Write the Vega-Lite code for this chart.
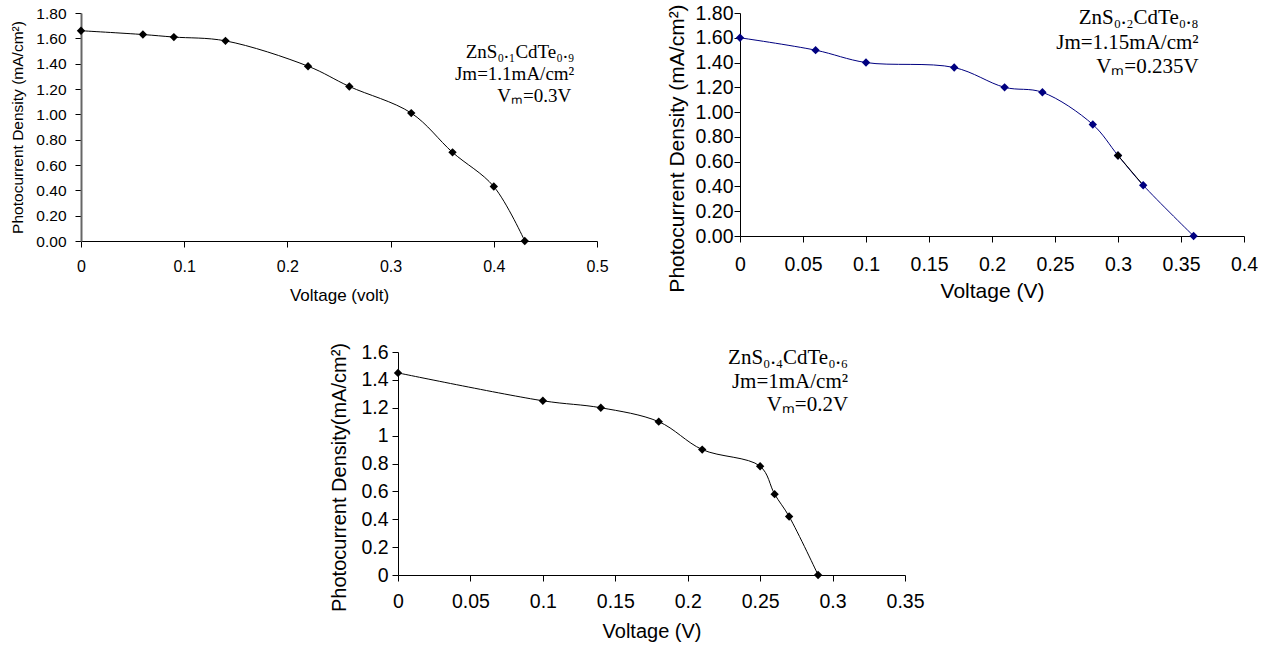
{
  "$schema": "https://vega.github.io/schema/vega-lite/v6.json",
  "padding": {"left": 10, "top": 3, "right": 0, "bottom": 0},
  "background": "white",
  "datasets": {
    "p1": [
      {"V": 0, "J": 1.66}, {"V": 0.06, "J": 1.63}, {"V": 0.09, "J": 1.61}, {"V": 0.14, "J": 1.58},
      {"V": 0.22, "J": 1.38}, {"V": 0.26, "J": 1.22}, {"V": 0.32, "J": 1.01}, {"V": 0.36, "J": 0.70},
      {"V": 0.40, "J": 0.43}, {"V": 0.43, "J": 0}
    ],
    "p2": [
      {"V": 0, "J": 1.60}, {"V": 0.06, "J": 1.50}, {"V": 0.10, "J": 1.40}, {"V": 0.17, "J": 1.36},
      {"V": 0.21, "J": 1.20}, {"V": 0.24, "J": 1.16}, {"V": 0.28, "J": 0.90}, {"V": 0.30, "J": 0.65},
      {"V": 0.32, "J": 0.41}, {"V": 0.36, "J": 0}
    ],
    "p3": [
      {"V": 0, "J": 1.45}, {"V": 0.10, "J": 1.25}, {"V": 0.14, "J": 1.20}, {"V": 0.18, "J": 1.10},
      {"V": 0.21, "J": 0.90}, {"V": 0.25, "J": 0.78}, {"V": 0.26, "J": 0.58}, {"V": 0.27, "J": 0.42},
      {"V": 0.29, "J": 0}
    ],
    "a1": [
      {"V": 0.478, "J": 1.49, "t": "ZnS₀.₁CdTe₀.₉"},
      {"V": 0.478, "J": 1.318, "t": "Jm=1.1mA/cm²"},
      {"V": 0.475, "J": 1.145, "t": "Vₘ=0.3V"}
    ],
    "a2": [
      {"V": 0.364, "J": 1.76, "t": "ZnS₀.₂CdTe₀.₈"},
      {"V": 0.364, "J": 1.558, "t": "Jm=1.15mA/cm²"},
      {"V": 0.364, "J": 1.364, "t": "Vₘ=0.235V"}
    ],
    "a3": [
      {"V": 0.3107, "J": 1.557, "t": "ZnS₀.₄CdTe₀.₆"},
      {"V": 0.3107, "J": 1.385, "t": "Jm=1mA/cm²"},
      {"V": 0.3107, "J": 1.22, "t": "Vₘ=0.2V"}
    ]
  },
  "config": {
    "view": {"stroke": null},
    "axis": {
      "grid": false, "domainColor": "black", "tickColor": "black", "labelColor": "black",
      "titleColor": "black", "labelFont": "Liberation Sans", "titleFont": "Liberation Sans",
      "titleFontWeight": "normal", "tickSize": 6, "labelFlush": false, "labelOverlap": false, "tickCount": 30
    },
    "text": {"font": "Liberation Serif", "color": "black"}
  },
  "spacing": 39,
  "vconcat": [
    {
      "spacing": 57,
      "hconcat": [
        {
          "width": 516, "height": 228,
          "layer": [
            {
              "data": {"name": "p1"},
              "mark": {"type": "line", "interpolate": "catmull-rom", "color": "black", "strokeWidth": 1},
              "encoding": {
                "x": {"field": "V", "type": "quantitative", "scale": {"domain": [0, 0.5], "nice": false},
                  "axis": {"values": [0, 0.1, 0.2, 0.3, 0.4, 0.5], "format": "~g", "title": "Voltage (volt)",
                    "labelFontSize": 16, "titleFontSize": 17, "labelPadding": 11, "titlePadding": 13}},
                "y": {"field": "J", "type": "quantitative", "scale": {"domain": [0, 1.8], "nice": false},
                  "axis": {"values": [0, 0.2, 0.4, 0.6, 0.8, 1.0, 1.2, 1.4, 1.6, 1.8], "format": ".2f",
                    "title": "Photocurrent Density (mA/cm²)", "labelFontSize": 15.5, "titleFontSize": 15.5,
                    "labelPadding": 9, "titlePadding": 10, "domainColor": "#666666", "domainWidth": 2}}
              }
            },
            {
              "data": {"name": "p1"},
              "mark": {"type": "point", "shape": "diamond", "filled": true, "color": "black", "size": 70, "opacity": 1},
              "encoding": {
                "x": {"field": "V", "type": "quantitative"},
                "y": {"field": "J", "type": "quantitative"}
              }
            },
            {
              "data": {"name": "a1"},
              "mark": {"type": "text", "align": "right", "baseline": "middle", "fontSize": 19},
              "encoding": {
                "x": {"field": "V", "type": "quantitative"},
                "y": {"field": "J", "type": "quantitative"},
                "text": {"field": "t"}
              }
            }
          ]
        },
        {
          "width": 504, "height": 223,
          "layer": [
            {
              "data": {"name": "p2"},
              "mark": {"type": "line", "interpolate": "catmull-rom", "color": "#000080", "strokeWidth": 1},
              "encoding": {
                "x": {"field": "V", "type": "quantitative", "scale": {"domain": [0, 0.4], "nice": false},
                  "axis": {"values": [0, 0.05, 0.1, 0.15, 0.2, 0.25, 0.3, 0.35, 0.4], "format": "~g", "title": "Voltage (V)",
                    "labelFontSize": 19.5, "titleFontSize": 21, "labelPadding": 13, "titlePadding": 7}},
                "y": {"field": "J", "type": "quantitative", "scale": {"domain": [0, 1.8], "nice": false},
                  "axis": {"values": [0, 0.2, 0.4, 0.6, 0.8, 1.0, 1.2, 1.4, 1.6, 1.8], "format": ".2f",
                    "title": "Photocurrent Density (mA/cm²)", "labelFontSize": 19.5, "titleFontSize": 21,
                    "labelPadding": 1, "titlePadding": 8, "titleY": 135}}
              }
            },
            {
              "data": {"name": "p2"},
              "transform": [{"filter": "datum.V >= 0.299 && datum.V <= 0.321"}],
              "mark": {"type": "line", "color": "black", "strokeWidth": 1},
              "encoding": {
                "x": {"field": "V", "type": "quantitative"},
                "y": {"field": "J", "type": "quantitative"}
              }
            },
            {
              "data": {"name": "p2"},
              "mark": {"type": "point", "shape": "diamond", "filled": true, "color": "#000080", "size": 70, "opacity": 1},
              "encoding": {
                "x": {"field": "V", "type": "quantitative"},
                "y": {"field": "J", "type": "quantitative"}
              }
            },
            {
              "data": {"name": "p2"},
              "transform": [{"filter": "datum.V >= 0.299 && datum.V <= 0.301"}],
              "mark": {"type": "point", "shape": "diamond", "filled": true, "color": "black", "size": 70, "opacity": 1},
              "encoding": {
                "x": {"field": "V", "type": "quantitative"},
                "y": {"field": "J", "type": "quantitative"}
              }
            },
            {
              "data": {"name": "a2"},
              "mark": {"type": "text", "align": "right", "baseline": "middle", "fontSize": 21},
              "encoding": {
                "x": {"field": "V", "type": "quantitative"},
                "y": {"field": "J", "type": "quantitative"},
                "text": {"field": "t"}
              }
            }
          ]
        }
      ]
    },
    {
      "spacing": 0,
      "hconcat": [
        {
          "width": 248, "height": 10,
          "data": {"values": []},
          "mark": {"type": "text"},
          "encoding": {}
        },
        {
          "width": 507, "height": 223,
          "layer": [
            {
              "data": {"name": "p3"},
              "mark": {"type": "line", "interpolate": "catmull-rom", "color": "black", "strokeWidth": 1},
              "encoding": {
                "x": {"field": "V", "type": "quantitative", "scale": {"domain": [0, 0.35], "nice": false},
                  "axis": {"values": [0, 0.05, 0.1, 0.15, 0.2, 0.25, 0.3, 0.35], "format": "~g", "title": "Voltage (V)",
                    "labelFontSize": 19.5, "titleFontSize": 20, "labelPadding": 11, "titlePadding": 11}},
                "y": {"field": "J", "type": "quantitative", "scale": {"domain": [0, 1.6], "nice": false},
                  "axis": {"values": [0, 0.2, 0.4, 0.6, 0.8, 1.0, 1.2, 1.4, 1.6], "format": "~g",
                    "title": "Photocurrent Density(mA/cm²)", "labelFontSize": 19.5, "titleFontSize": 20,
                    "labelPadding": 4, "titlePadding": 11, "titleY": 125}}
              }
            },
            {
              "data": {"name": "p3"},
              "mark": {"type": "point", "shape": "diamond", "filled": true, "color": "black", "size": 70, "opacity": 1},
              "encoding": {
                "x": {"field": "V", "type": "quantitative"},
                "y": {"field": "J", "type": "quantitative"}
              }
            },
            {
              "data": {"name": "a3"},
              "mark": {"type": "text", "align": "right", "baseline": "middle", "fontSize": 21},
              "encoding": {
                "x": {"field": "V", "type": "quantitative"},
                "y": {"field": "J", "type": "quantitative"},
                "text": {"field": "t"}
              }
            }
          ]
        }
      ]
    }
  ]
}
